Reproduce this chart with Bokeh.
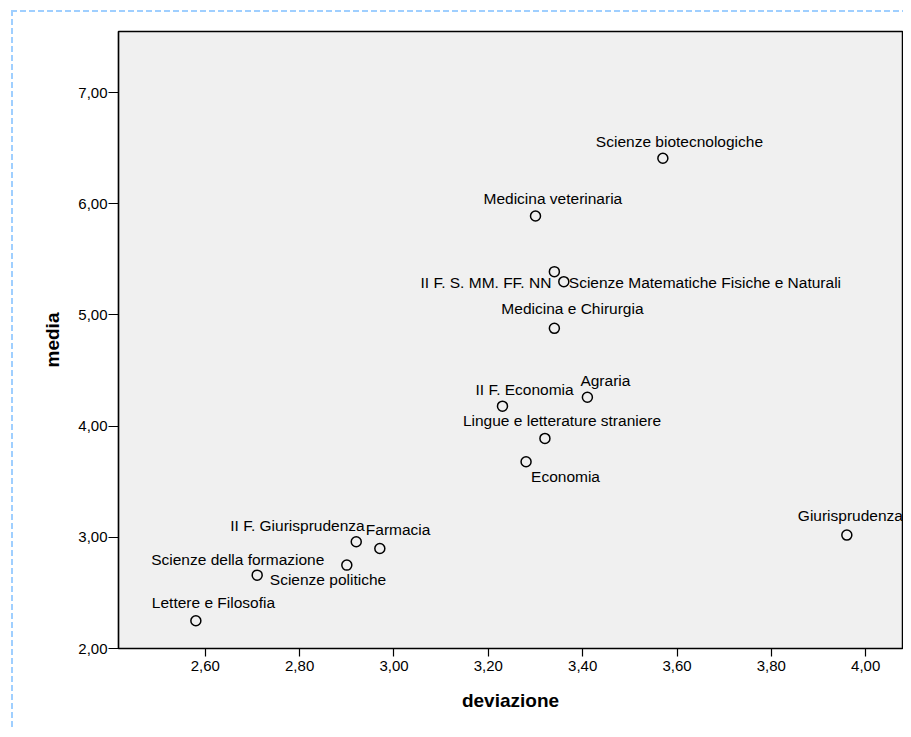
from bokeh.plotting import figure
from bokeh.models import ColumnDataSource, FixedTicker, Range1d
from bokeh.embed import file_html
from bokeh.resources import INLINE
from bokeh.core.properties import value

# ---- data ----
facolta = [
    "Scienze biotecnologiche", "Medicina veterinaria", "II F. S. MM. FF. NN",
    "Scienze Matematiche Fisiche e Naturali", "Medicina e Chirurgia", "Agraria",
    "II F. Economia", "Lingue e letterature straniere", "Economia",
    "Giurisprudenza", "II F. Giurisprudenza", "Farmacia", "Scienze politiche",
    "Scienze della formazione", "Lettere e Filosofia",
]
deviazione = [3.57, 3.30, 3.34, 3.36, 3.34, 3.41, 3.23, 3.32, 3.28, 3.96,
              2.92, 2.97, 2.90, 2.71, 2.58]
media = [6.41, 5.89, 5.39, 5.30, 4.88, 4.26, 4.18, 3.89, 3.68, 3.02,
         2.96, 2.90, 2.75, 2.66, 2.25]

x_ticks = [2.6, 2.8, 3.0, 3.2, 3.4, 3.6, 3.8, 4.0]
x_tick_labels = ["2,60", "2,80", "3,00", "3,20", "3,40", "3,60", "3,80", "4,00"]
y_ticks = [2, 3, 4, 5, 6, 7]
y_tick_labels = ["2,00", "3,00", "4,00", "5,00", "6,00", "7,00"]

# ---- label placement (layout only, screen pixels) ----
lab_align = ["left", "left", "right", "left", "left", "left", "left", "left",
             "left", "left", "left", "left", "left", "left", "left"]
lab_dx = [-67, -52, -3, 5, -53, -7, -27, -82, 5, -49, -126, -14, -77, -106, -44]
lab_dy = [-17, -18, 11, 1, -20, -17, -17, -18, 15, -20, -16, -19, 14, -16, -18]

FONT = "Liberation Sans"
DASH_BLUE = "#9fcfff"

p = figure(width=903, height=729, output_backend="svg", toolbar_location=None,
           x_range=Range1d(2.416, 4.078), y_range=Range1d(2.0, 7.55),
           min_border_left=118, min_border_right=1, min_border_top=31,
           min_border_bottom=81)

p.background_fill_color = "#f0f0f0"
p.border_fill_color = None
p.outline_line_color = "black"
p.outline_line_width = 1.5
p.xgrid.visible = False
p.ygrid.visible = False

# dashed light-blue frame line along the top and left of the picture
p.styles = {
    "background-color": "white",
    "background-image": (
        f"repeating-linear-gradient(to right, {DASH_BLUE} 0px, {DASH_BLUE} 6px, transparent 6px, transparent 9px),"
        f"repeating-linear-gradient(to bottom, {DASH_BLUE} 0px, {DASH_BLUE} 6px, transparent 6px, transparent 9px)"
    ),
    "background-size": "100% 2px, 2px 100%",
    "background-position": "11px 10px, 11px 10px",
    "background-repeat": "no-repeat",
}

src = ColumnDataSource(dict(x=deviazione, y=media, name=facolta,
                            align=lab_align, dx=lab_dx, dy=lab_dy))

p.scatter("x", "y", source=src, size=10, marker="circle",
          fill_color=None, line_color="black", line_width=1.5)

p.text("x", "y", text="name", source=src, x_offset="dx", y_offset="dy",
       text_align="align", text_baseline="alphabetic",
       text_font=value(FONT), text_font_size="15.5px", text_color="black")

for ax in (p.xaxis[0], p.yaxis[0]):
    ax.axis_line_color = "black"
    ax.axis_line_width = 1.2
    ax.major_tick_line_color = "black"
    ax.major_tick_line_width = 1.2
    ax.major_tick_in = 0
    ax.minor_tick_line_color = None
    ax.major_label_text_font = FONT
    ax.major_label_text_font_size = "15px"
    ax.major_label_text_color = "black"
    ax.axis_label_text_font = FONT
    ax.axis_label_text_font_style = "bold"
    ax.axis_label_text_font_size = "19px"
    ax.axis_label_text_color = "black"

p.xaxis.ticker = FixedTicker(ticks=x_ticks)
p.xaxis.major_label_overrides = dict(zip(x_ticks, x_tick_labels))
p.xaxis.major_tick_out = 8
p.xaxis.major_label_standoff = 4
p.xaxis.axis_label = "deviazione"
p.xaxis.axis_label_standoff = 16

p.yaxis.ticker = FixedTicker(ticks=y_ticks)
p.yaxis.major_label_overrides = dict(zip(y_ticks, y_tick_labels))
p.yaxis.major_tick_out = 10
p.yaxis.major_label_standoff = 1
p.yaxis.axis_label = "media"
p.yaxis.axis_label_standoff = 12

open("out.html", "w").write(file_html(p, INLINE))
